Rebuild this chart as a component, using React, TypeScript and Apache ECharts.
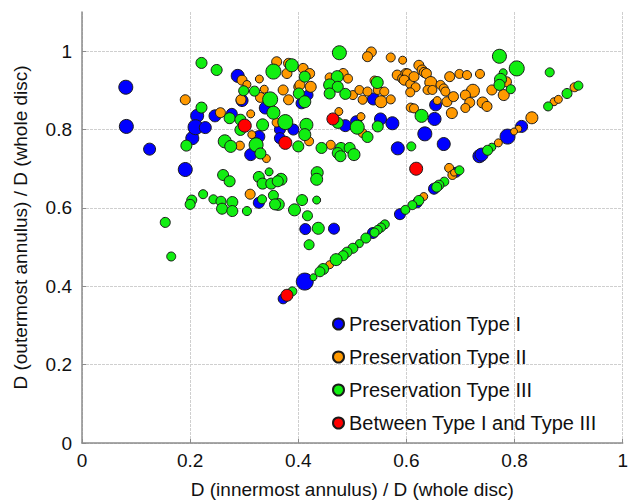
import React, { useEffect, useRef } from "react";
import * as echarts from "echarts";

// [x, y, marker diameter]
const typeI: number[][] = [
  [0.081, 0.908, 14], [0.082, 0.808, 14], [0.125, 0.75, 12], [0.191, 0.698, 14], [0.204, 0.778, 13],
  [0.213, 0.835, 13], [0.21, 0.806, 15], [0.228, 0.805, 12], [0.246, 0.835, 12], [0.277, 0.84, 11],
  [0.288, 0.937, 13], [0.296, 0.874, 12], [0.327, 0.782, 12], [0.312, 0.736, 12], [0.339, 0.855, 12],
  [0.366, 0.8, 11], [0.366, 0.778, 11], [0.391, 0.8, 11], [0.406, 0.867, 11], [0.418, 0.888, 10],
  [0.327, 0.613, 11], [0.487, 0.81, 12], [0.507, 0.821, 11], [0.539, 0.878, 12], [0.552, 0.827, 12],
  [0.574, 0.816, 13], [0.584, 0.752, 13], [0.654, 0.863, 12], [0.652, 0.827, 13], [0.634, 0.789, 14],
  [0.669, 0.763, 13], [0.413, 0.546, 11], [0.466, 0.547, 11], [0.412, 0.412, 17], [0.372, 0.368, 10],
  [0.538, 0.536, 11], [0.588, 0.584, 11], [0.62, 0.613, 10], [0.651, 0.649, 11], [0.692, 0.691, 10],
  [0.735, 0.732, 13], [0.739, 0.736, 13], [0.787, 0.782, 15], [0.813, 0.808, 12],
];

const typeII: number[][] = [
  [0.191, 0.876, 10], [0.256, 0.843, 10], [0.296, 0.926, 10], [0.305, 0.915, 8], [0.328, 0.929, 8],
  [0.294, 0.876, 10], [0.312, 0.84, 8], [0.314, 0.787, 8], [0.292, 0.759, 9], [0.341, 0.726, 8],
  [0.337, 0.903, 8], [0.33, 0.882, 10], [0.36, 0.973, 10], [0.382, 0.969, 10], [0.379, 0.943, 10],
  [0.372, 0.901, 10], [0.382, 0.876, 10], [0.36, 0.818, 9], [0.4, 0.909, 9], [0.409, 0.956, 10],
  [0.421, 0.943, 10], [0.403, 0.914, 10], [0.423, 0.909, 11], [0.42, 0.77, 9], [0.458, 0.933, 9],
  [0.483, 0.943, 10], [0.492, 0.93, 9], [0.501, 0.888, 9], [0.513, 0.901, 9], [0.528, 0.897, 9],
  [0.547, 0.901, 9], [0.559, 0.897, 9], [0.519, 0.876, 9], [0.553, 0.871, 12], [0.571, 0.877, 9],
  [0.541, 0.925, 9], [0.535, 0.998, 10], [0.528, 0.986, 10], [0.571, 0.984, 9], [0.593, 0.977, 8],
  [0.583, 0.939, 10], [0.593, 0.93, 10], [0.599, 0.943, 10], [0.602, 0.942, 10], [0.596, 0.926, 10],
  [0.607, 0.916, 9], [0.617, 0.908, 9], [0.607, 0.895, 9], [0.614, 0.935, 10], [0.623, 0.964, 10],
  [0.629, 0.952, 10], [0.633, 0.946, 10], [0.637, 0.943, 10], [0.645, 0.92, 12], [0.639, 0.901, 9],
  [0.648, 0.901, 9], [0.68, 0.935, 10], [0.698, 0.942, 9], [0.712, 0.939, 9], [0.736, 0.942, 9],
  [0.663, 0.914, 9], [0.669, 0.905, 9], [0.672, 0.897, 9], [0.657, 0.874, 8], [0.675, 0.871, 10],
  [0.687, 0.884, 10], [0.684, 0.842, 11], [0.608, 0.856, 9], [0.614, 0.854, 9], [0.723, 0.899, 13],
  [0.709, 0.888, 10], [0.717, 0.869, 10], [0.709, 0.855, 9], [0.741, 0.869, 11], [0.749, 0.859, 10],
  [0.758, 0.901, 10], [0.78, 0.888, 11], [0.785, 0.922, 10], [0.832, 0.83, 12], [0.873, 0.871, 8],
  [0.881, 0.877, 8], [0.911, 0.908, 9], [0.807, 0.802, 7], [0.799, 0.795, 7], [0.77, 0.766, 8],
  [0.679, 0.702, 9], [0.685, 0.684, 9], [0.688, 0.69, 7], [0.632, 0.629, 8], [0.458, 0.455, 8],
  [0.311, 0.635, 10], [0.46, 0.761, 9], [0.475, 0.846, 8], [0.516, 0.833, 8], [0.519, 0.791, 9],
];

const typeIII: number[][] = [
  [0.221, 0.97, 11], [0.249, 0.952, 11], [0.221, 0.856, 11], [0.193, 0.759, 11], [0.273, 0.829, 11],
  [0.264, 0.77, 13], [0.275, 0.757, 12], [0.293, 0.825, 11], [0.293, 0.799, 11], [0.299, 0.899, 10],
  [0.319, 0.898, 10], [0.334, 0.812, 12], [0.322, 0.761, 14], [0.33, 0.739, 11], [0.348, 0.877, 15],
  [0.354, 0.843, 13], [0.354, 0.948, 15], [0.388, 0.964, 13], [0.376, 0.819, 15], [0.401, 0.892, 11],
  [0.412, 0.935, 11], [0.412, 0.871, 12], [0.415, 0.812, 13], [0.412, 0.787, 12], [0.4, 0.757, 11],
  [0.443, 0.753, 11], [0.479, 0.753, 11], [0.495, 0.753, 11], [0.473, 0.74, 11], [0.478, 0.732, 11],
  [0.503, 0.736, 12], [0.472, 0.935, 12], [0.458, 0.914, 12], [0.473, 0.909, 11], [0.458, 0.892, 11],
  [0.487, 0.891, 11], [0.476, 0.996, 14], [0.546, 0.92, 12], [0.473, 0.817, 11], [0.509, 0.806, 14],
  [0.528, 0.781, 11], [0.547, 0.808, 11], [0.628, 0.835, 13], [0.609, 0.757, 9], [0.772, 0.987, 14],
  [0.804, 0.956, 15], [0.779, 0.945, 8], [0.774, 0.928, 12], [0.772, 0.914, 11], [0.793, 0.903, 9],
  [0.865, 0.946, 9], [0.862, 0.859, 9], [0.897, 0.892, 10], [0.918, 0.912, 9], [0.758, 0.755, 8],
  [0.75, 0.747, 10], [0.698, 0.696, 9], [0.67, 0.667, 9], [0.66, 0.658, 10], [0.656, 0.653, 10],
  [0.623, 0.619, 10], [0.611, 0.607, 9], [0.598, 0.595, 9], [0.56, 0.558, 9], [0.553, 0.55, 9],
  [0.547, 0.544, 9], [0.541, 0.537, 9], [0.525, 0.523, 10], [0.513, 0.509, 8], [0.501, 0.497, 10],
  [0.49, 0.487, 10], [0.483, 0.478, 10], [0.47, 0.468, 12], [0.446, 0.444, 11], [0.44, 0.437, 10],
  [0.428, 0.423, 7], [0.389, 0.387, 9], [0.407, 0.62, 11], [0.434, 0.62, 8], [0.393, 0.595, 12],
  [0.417, 0.58, 10], [0.437, 0.548, 12], [0.42, 0.506, 10], [0.435, 0.69, 12], [0.434, 0.673, 12],
  [0.368, 0.673, 12], [0.363, 0.609, 12], [0.261, 0.684, 11], [0.273, 0.668, 11], [0.327, 0.679, 11],
  [0.334, 0.662, 11], [0.35, 0.662, 11], [0.346, 0.692, 8], [0.362, 0.668, 11], [0.224, 0.635, 9],
  [0.203, 0.62, 10], [0.2, 0.609, 10], [0.243, 0.622, 9], [0.257, 0.617, 10], [0.278, 0.615, 11],
  [0.259, 0.598, 11], [0.278, 0.592, 11], [0.305, 0.592, 9], [0.333, 0.622, 9], [0.354, 0.632, 10],
  [0.357, 0.609, 11], [0.154, 0.563, 10], [0.165, 0.476, 9],
];

const between: number[][] = [
  [0.301, 0.81, 13], [0.376, 0.766, 13], [0.464, 0.827, 12], [0.618, 0.7, 13], [0.379, 0.377, 12],
];

const seriesNames = [
  "Preservation Type I",
  "Preservation Type II",
  "Preservation Type III",
  "Between Type I and Type III",
];
const seriesColors = ["#0000ff", "#ff9900", "#11ee11", "#ff0000"];
const seriesData = [typeI, typeII, typeIII, between];

const xTitle = "D (innermost annulus) / D (whole disc)";
const yTitle = "D (outermost annulus) / D (whole disc)";

const FONT = "Liberation Sans, Arial, sans-serif";

export default function App() {
  const ref = useRef<HTMLDivElement>(null);
  useEffect(() => {
    if (!ref.current) return;
    const chart = echarts.init(ref.current, undefined, { renderer: "svg" });
    const gridLine = { show: true, lineStyle: { color: "#cfcfcf", width: 1, type: [3, 1] } };
    chart.setOption({
      animation: false,
      backgroundColor: "#ffffff",
      textStyle: { fontFamily: FONT },
      grid: { left: 82, right: 4, top: 12, bottom: 59, containLabel: false },
      legend: {
        orient: "vertical",
        left: 327,
        top: 309,
        itemWidth: 11,
        itemHeight: 11,
        itemGap: 13,
        icon: "circle",
        textStyle: { fontSize: 20, color: "#111", fontFamily: FONT },
        data: seriesNames,
      },
      xAxis: {
        type: "value",
        min: 0,
        max: 1,
        interval: 0.2,
        name: xTitle,
        nameLocation: "middle",
        nameGap: 37,
        nameTextStyle: { fontSize: 19, color: "#111", fontFamily: FONT },
        axisLine: { show: true, lineStyle: { color: "#8c8c8c", width: 1.5 } },
        axisTick: { show: true, inside: true, length: 4, lineStyle: { color: "#8c8c8c" } },
        axisLabel: { fontSize: 19, color: "#111", margin: 8, fontFamily: FONT },
        splitLine: gridLine,
      },
      yAxis: {
        type: "value",
        min: 0,
        max: 1.1,
        interval: 0.2,
        name: yTitle,
        nameLocation: "middle",
        nameGap: 52,
        nameTextStyle: { fontSize: 19, color: "#111", fontFamily: FONT },
        axisLine: { show: true, lineStyle: { color: "#8c8c8c", width: 1.5 } },
        axisTick: { show: true, inside: true, length: 4, lineStyle: { color: "#8c8c8c" } },
        axisLabel: {
          fontSize: 19,
          color: "#111",
          margin: 10,
          fontFamily: FONT,
          showMaxLabel: false,
        },
        splitLine: { ...gridLine, showMaxLine: false },
      },
      series: seriesNames.map((name, i) => ({
        name,
        type: "scatter",
        data: seriesData[i],
        symbol: "circle",
        symbolSize: (v: number[]) => v[2],
        itemStyle: { color: seriesColors[i], borderColor: "#1a1a1a", borderWidth: 1, opacity: 1 },
        emphasis: { disabled: true },
        z: 2 + i,
      })),
    });
    return () => chart.dispose();
  }, []);
  return (
    <div
      ref={ref}
      style={{ position: "absolute", left: 0, top: 0, width: 631, height: 504 }}
    />
  );
}
